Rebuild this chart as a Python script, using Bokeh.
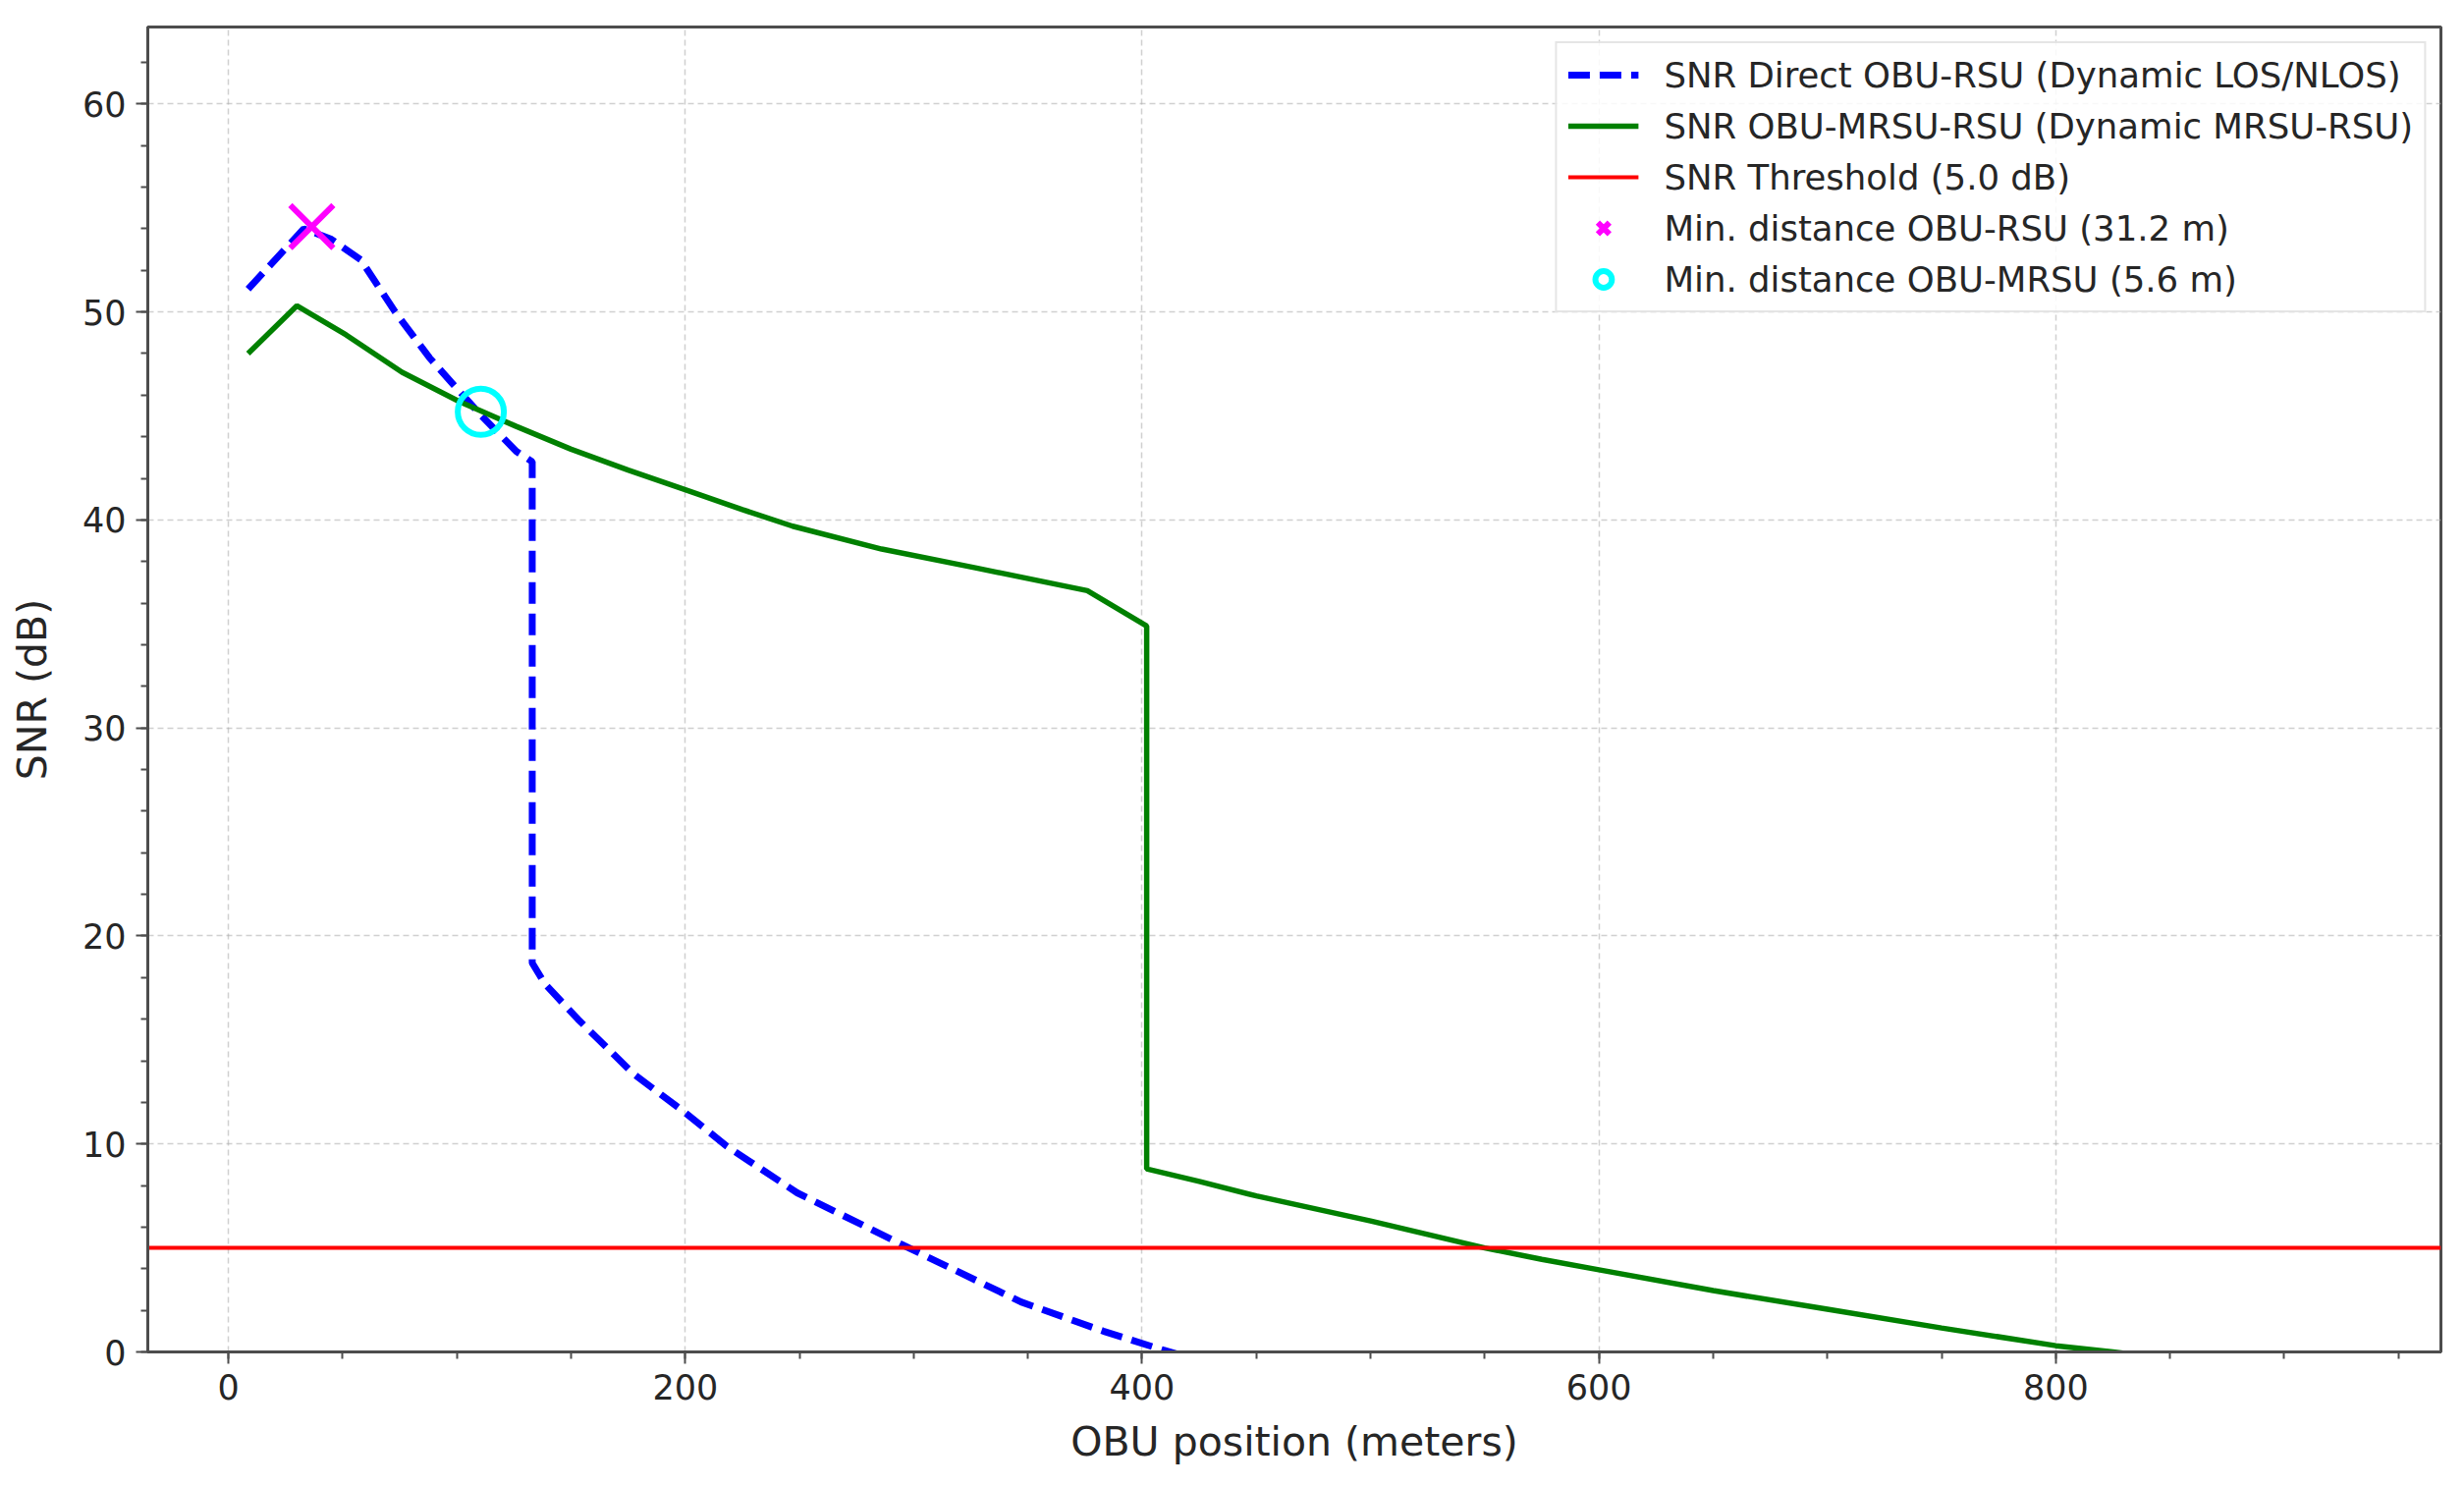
from bokeh.plotting import figure
from bokeh.models import Range1d, Legend, LegendItem, FixedTicker
from bokeh.embed import file_html
from bokeh.resources import INLINE

# ---- data ----
direct_x = [8.6, 33, 45, 58, 73, 88, 101, 110, 126, 133, 133, 138.5, 153, 177, 200, 218, 249, 296, 347, 383, 409, 450, 500]
direct_y = [51.1, 54.0, 53.5, 52.5, 50.0, 47.8, 46.2, 45.1, 43.3, 42.8, 18.7, 17.7, 16.0, 13.4, 11.5, 9.9, 7.65, 5.1, 2.4, 1.0, 0.1, -1.2, -2.7]

relay_x = [8.6, 30, 51.5, 76, 101, 126, 150, 175, 200, 225, 247, 286, 327, 376, 402, 402, 425, 450, 475, 500, 525, 550, 575, 600, 650, 700, 750, 800, 825, 870, 920]
relay_y = [48.0, 50.3, 48.9, 47.1, 45.7, 44.5, 43.4, 42.4, 41.45, 40.5, 39.7, 38.6, 37.7, 36.6, 34.9, 8.8, 8.2, 7.5, 6.9, 6.3, 5.65, 5.0, 4.45, 3.95, 2.95, 2.05, 1.15, 0.3, 0.0, -0.6, -1.2]

THRESHOLD = 5.0
min_rsu_x, min_rsu_y = [36.5], [54.1]
min_mrsu_x, min_mrsu_y = [110.5], [45.2]

labels = [
    "SNR Direct OBU-RSU (Dynamic LOS/NLOS)",
    "SNR OBU-MRSU-RSU (Dynamic MRSU-RSU)",
    "SNR Threshold (5.0 dB)",
    "Min. distance OBU-RSU (31.2 m)",
    "Min. distance OBU-MRSU (5.6 m)",
]
x_ticks = [0, 200, 400, 600, 800]
y_ticks = [0, 10, 20, 30, 40, 50, 60]

X_MIN, X_MAX = -35.3, 968.6
Y_MIN, Y_MAX = 0.0, 63.7

FONT = "DejaVu Sans"
TXT = "#262626"
SPINE = "#4d4d4d"

p = figure(width=2493, height=1497, output_backend="svg", toolbar_location=None,
           x_range=Range1d(X_MIN, X_MAX), y_range=Range1d(Y_MIN, Y_MAX),
           min_border_left=150, min_border_right=8, min_border_top=27, min_border_bottom=121,
           x_axis_label="OBU position (meters)", y_axis_label="SNR (dB)")

p.background_fill_color = "white"
p.border_fill_color = "white"
p.outline_line_color = SPINE
p.outline_line_width = 3

p.xaxis.ticker = FixedTicker(ticks=x_ticks, minor_ticks=list(range(-50, 1000, 50)))
p.yaxis.ticker = FixedTicker(ticks=y_ticks, minor_ticks=list(range(0, 64, 2)))

for ax in (p.xaxis, p.yaxis):
    ax.axis_line_color = SPINE
    ax.axis_line_width = 3
    ax.major_tick_line_color = SPINE
    ax.minor_tick_line_color = SPINE
    ax.major_tick_line_width = 2
    ax.minor_tick_line_width = 2
    ax.major_tick_out = 12
    ax.major_tick_in = 0
    ax.minor_tick_out = 7
    ax.minor_tick_in = 0
    ax.major_label_text_font = FONT
    ax.major_label_text_font_size = "35px"
    ax.major_label_text_color = TXT
    ax.axis_label_text_font = FONT
    ax.axis_label_text_font_size = "41px"
    ax.axis_label_text_font_style = "normal"
    ax.axis_label_text_color = TXT
p.xaxis.major_label_standoff = 10
p.yaxis.major_label_standoff = 10
p.xaxis.axis_label_standoff = 16
p.yaxis.axis_label_standoff = 24

for g in (p.xgrid, p.ygrid):
    g.grid_line_color = "#b0b0b0"
    g.grid_line_alpha = 0.6
    g.grid_line_dash = "6 4"
    g.grid_line_width = 1.5

r_direct = p.line(direct_x, direct_y, line_color="#0000ff", line_width=7, line_dash="22 10")
r_relay = p.line(relay_x, relay_y, line_color="#008000", line_width=5.5)
r_thr = p.line([X_MIN, X_MAX], [THRESHOLD, THRESHOLD], line_color="#ff0000", line_width=4)
r_x = p.scatter(min_rsu_x, min_rsu_y, marker="x", size=62, line_color="#ff00ff", line_width=6)
r_o = p.scatter(min_mrsu_x, min_mrsu_y, marker="circle", size=47, line_color="#00ffff",
                fill_color=None, line_width=6)

legend = Legend(items=[
    LegendItem(label=labels[0], renderers=[r_direct]),
    LegendItem(label=labels[1], renderers=[r_relay]),
    LegendItem(label=labels[2], renderers=[r_thr]),
    LegendItem(label=labels[3], renderers=[r_x]),
    LegendItem(label=labels[4], renderers=[r_o]),
], location="top_right")
legend.label_text_font = FONT
legend.label_text_font_size = "35.5px"
legend.label_text_color = TXT
legend.glyph_width = 72
legend.glyph_height = 42
legend.label_height = 42
legend.label_standoff = 26
legend.spacing = 10
legend.padding = 11
legend.margin = 15
legend.border_line_color = "#cccccc"
legend.border_line_width = 2
legend.background_fill_alpha = 0.85
p.add_layout(legend)

open("out.html", "w").write(file_html(p, INLINE))
